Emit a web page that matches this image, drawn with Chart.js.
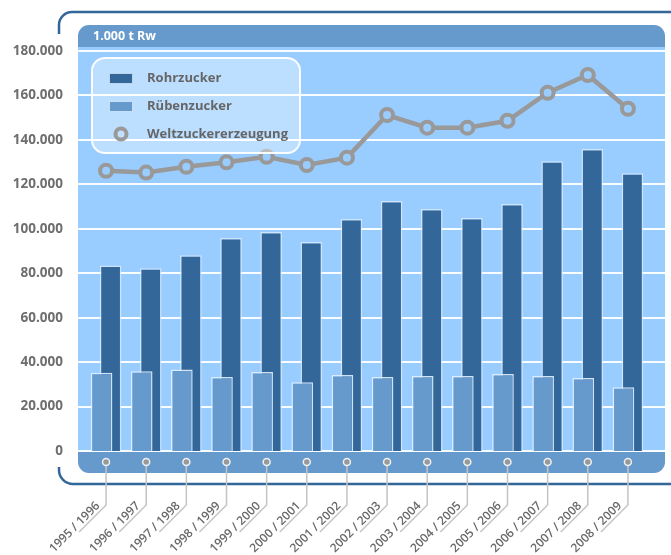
<!DOCTYPE html>
<html>
<head>
<meta charset="utf-8">
<script src="https://cdn.jsdelivr.net/npm/chart.js@4.4.1/dist/chart.umd.min.js"></script>
<style>
  body { margin: 0; background: #fff; }
</style>
</head>
<body>
<canvas id="zucker" width="671" height="555"></canvas>
<script>
// Zuckererzeugung in 1.000 t Rohwert
const jahre = ["1995 / 1996", "1996 / 1997", "1997 / 1998", "1998 / 1999", "1999 / 2000", "2000 / 2001", "2001 / 2002",
  "2002 / 2003", "2003 / 2004", "2004 / 2005", "2005 / 2006", "2006 / 2007", "2007 / 2008", "2008 / 2009"]
const rohrzucker = [83500, 82200, 88100, 95800, 98500, 94000, 104400, 112500, 108900, 104900, 111200, 130400, 135900, 125000]
const ruebenzucker = [35200, 35900, 36700, 33300, 35500, 30900, 34200, 33300, 33700, 33700, 34600, 33700, 32900, 28700]
const weltzucker = [126100, 125300, 127900, 129900, 132400, 128700, 132000, 151200, 145500, 145500, 148600, 161200, 169200, 154000]
const einheit = "1.000 t Rw"

const dunkelblau = "#336699"
const mittelblau = "#6699cc"
const hellblau = "#99ccff"
const grau = "#999999"

const tausender = (v) => String(v).replace(/\B(?=(\d{3})+(?!\d))/g, ".")

// Rahmen, Kopfleiste, Hintergrund und Gitterlinien
const hintergrund = {
  id: "hintergrund",
  beforeDraw(chart) {
    const ctx = chart.ctx
    const y = chart.scales.y
    const links = 78, rechts = 665

    ctx.save()
    ctx.strokeStyle = dunkelblau
    ctx.lineWidth = 2.5
    ctx.beginPath()
    ctx.moveTo(59, 34)
    ctx.arcTo(59, 12, 73, 12, 13)
    ctx.lineTo(671, 12)
    ctx.stroke()
    ctx.beginPath()
    ctx.moveTo(59, 467)
    ctx.arcTo(59, 484, 75, 484, 14)
    ctx.lineTo(671, 484)
    ctx.stroke()

    ctx.fillStyle = mittelblau
    ctx.beginPath()
    ctx.roundRect(links, 25, rechts - links, 24, [11, 11, 0, 0])
    ctx.fill()
    ctx.beginPath()
    ctx.roundRect(links, 451, rechts - links, 22, [0, 0, 11, 11])
    ctx.fill()

    ctx.fillStyle = hellblau
    ctx.fillRect(links, 47, rechts - links, 405)

    ctx.fillStyle = "#fff"
    ctx.font = "bold 12.5px 'Open Sans'"
    ctx.textBaseline = "middle"
    ctx.fillText(einheit, 93, 36)

    ctx.strokeStyle = "rgba(255,255,255,0.95)"
    ctx.lineWidth = 2
    y.ticks.forEach((t) => {
      const py = Math.round(y.getPixelForValue(t.value))
      ctx.beginPath()
      ctx.moveTo(links, py)
      ctx.lineTo(rechts, py)
      ctx.stroke()
    })
    ctx.restore()
  },
  afterDraw(chart) {
    const ctx = chart.ctx
    const x = chart.scales.x
    ctx.save()

    // Markierungen und Beschriftung der Jahre
    jahre.forEach((jahr, i) => {
      const px = x.getPixelForValue(i)
      ctx.strokeStyle = "#c4c4c4"
      ctx.lineWidth = 1.5
      ctx.beginPath()
      ctx.moveTo(px, 462)
      ctx.lineTo(px, 505)
      ctx.lineTo(px - 27, 532)
      ctx.stroke()

      ctx.fillStyle = grau
      ctx.strokeStyle = "rgba(255,255,255,0.85)"
      ctx.lineWidth = 1.5
      ctx.beginPath()
      ctx.arc(px, 462, 3.5, 0, Math.PI * 2)
      ctx.fill()
      ctx.stroke()

      ctx.save()
      ctx.translate(px, 505)
      ctx.rotate(-Math.PI / 4)
      ctx.fillStyle = "#686868"
      ctx.font = "600 12px 'Open Sans'"
      ctx.textAlign = "right"
      ctx.textBaseline = "alphabetic"
      ctx.fillText(jahr, -5, -3)
      ctx.restore()
    })

    // Legende
    ctx.fillStyle = "rgba(255,255,255,0.35)"
    ctx.strokeStyle = "rgba(255,255,255,0.95)"
    ctx.lineWidth = 2
    ctx.beginPath()
    ctx.roundRect(92, 58, 208, 95, 13)
    ctx.fill()
    ctx.stroke()

    ctx.font = "bold 13px 'Open Sans'"
    ctx.textBaseline = "middle"
    chart.data.datasets.forEach((ds, i) => {
      const ly = 78 + i * 28
      if (ds.type === "bar") {
        ctx.fillStyle = ds.backgroundColor
        ctx.fillRect(109, ly - 5, 24, 11)
        ctx.strokeStyle = "rgba(225,240,255,0.8)"
        ctx.lineWidth = 1
        ctx.strokeRect(109.5, ly - 4.5, 23, 10)
      } else {
        ctx.fillStyle = "#c2e0ff"
        ctx.strokeStyle = ds.borderColor
        ctx.lineWidth = 4
        ctx.beginPath()
        ctx.arc(121, ly, 5.5, 0, Math.PI * 2)
        ctx.fill()
        ctx.stroke()
      }
      ctx.fillStyle = "#666666"
      ctx.fillText(ds.label, 147, ly)
    })
    ctx.restore()
  }
}

new Chart(document.getElementById("zucker"), {
  data: {
    labels: jahre,
    datasets: [
      {
        type: "bar",
        label: "Rohrzucker",
        data: rohrzucker,
        backgroundColor: dunkelblau,
        borderColor: "rgba(215,232,250,0.85)",
        borderWidth: 1.5,
        categoryPercentage: 0.45,
        barPercentage: 2.4,
        order: 2
      },
      {
        type: "bar",
        label: "Rübenzucker",
        data: ruebenzucker,
        backgroundColor: mittelblau,
        borderColor: "rgba(225,240,255,0.9)",
        borderWidth: 1.5,
        categoryPercentage: 0.45,
        barPercentage: 2.4,
        order: 1
      },
      {
        type: "line",
        label: "Weltzuckererzeugung",
        data: weltzucker,
        borderColor: grau,
        borderWidth: 4.5,
        tension: 0,
        pointRadius: 6,
        pointBorderWidth: 4,
        pointBackgroundColor: hellblau,
        pointBorderColor: grau,
        order: 0
      }
    ]
  },
  options: {
    responsive: false,
    animation: false,
    layout: { padding: { left: 12, right: 23, top: 51, bottom: 104 } },
    plugins: { legend: { display: false }, tooltip: { enabled: false } },
    scales: {
      x: { display: false, offset: true },
      y: {
        min: 0,
        max: 180000,
        afterFit: (s) => { s.width = 74 },
        grid: { display: false, drawTicks: false },
        border: { display: false },
        ticks: {
          stepSize: 20000,
          padding: 23,
          color: "#6e6e6e",
          font: { family: "Open Sans", weight: "bold", size: 13.5 },
          callback: (v) => tausender(v)
        }
      }
    }
  },
  plugins: [hintergrund]
})
</script>
</body>
</html>
